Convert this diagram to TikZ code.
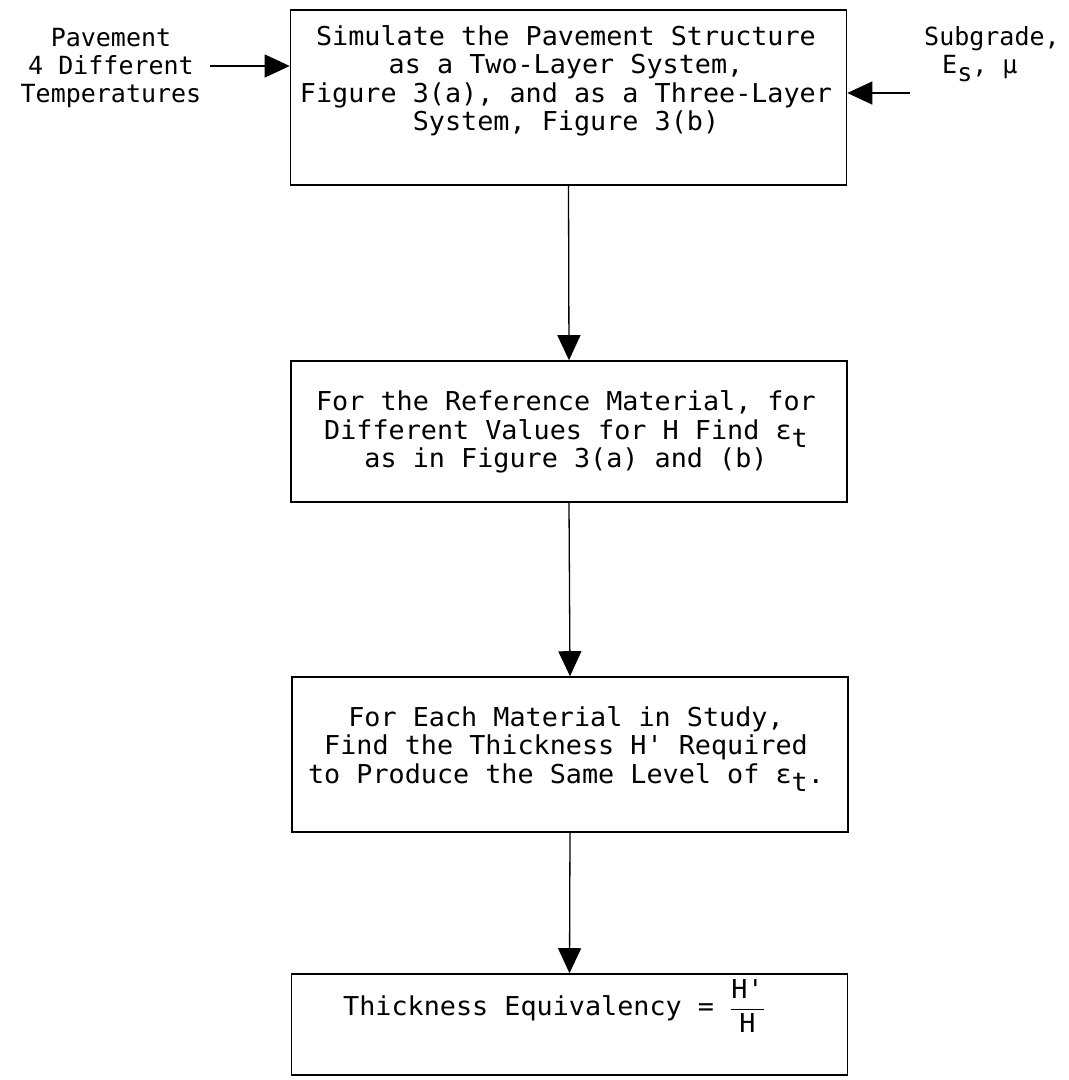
\documentclass[tikz,border=0pt]{standalone}
\usepackage{fontspec}
\setmonofont{DejaVu Sans Mono}[FakeStretch=1.03]
\newfontfamily\sidefont{DejaVu Sans Mono}
\usetikzlibrary{arrows.meta}
\newcommand\lowr[1]{\raisebox{-0.32em}{#1}}
\begin{document}
\begin{tikzpicture}[x=1pt,y=-1pt,
  every node/.style={inner sep=0pt},
  boxtext/.style={font=\ttfamily\fontsize{26}{28.5}\selectfont, align=center},
  sidetext/.style={font=\sidefont\fontsize{25}{28}\selectfont},
  stepbox/.style={draw, line width=1.6pt, minimum width=556pt},
  flow/.style={line width=1.3pt, -{Triangle[length=25pt,width=23pt]}}]
\useasboundingbox (0,0) rectangle (1069,1080);
% boxes
\node[stepbox, minimum height=175pt] (b1) at (568.5,97.5) {};
\node[stepbox, minimum height=141pt] (b2) at (569,431.5) {};
\node[stepbox, minimum height=155pt] (b3) at (570,754.5) {};
\node[stepbox, minimum height=101pt] (b4) at (569.5,1024.5) {};
% box texts
\node[boxtext] (t1) at (566,81)
  {Simulate the Pavement Structure\\as a Two-Layer System,\\Figure 3(a), and as a Three-Layer\\System, Figure 3(b)};
\node[boxtext] (t2) at (566,432)
  {For the Reference Material, for\\Different Values for H Find ε\lowr{t}\\as in Figure 3(a) and (b)};
\node[boxtext] (t3) at (566,749)
  {For Each Material in Study,\\Find the Thickness H' Required\\to Produce the Same Level of ε\lowr{t}.};
\node[boxtext] (t4) at (554,1006)
  {Thickness Equivalency = $\displaystyle\frac{\mbox{H'}}{\mbox{H}}$};
% side inputs
\node[sidetext, align=center] (pav) at (111,68) {Pavement\\4 Different\\Temperatures};
\node[sidetext, align=left, anchor=north west] (sub) at (924,26) {Subgrade,\\\hspace*{18pt}E\lowr{s}, µ};
\coordinate (pavtail) at (210,66);
\coordinate (subtail) at (910,93);
\draw[flow] (pavtail) -- (pavtail -| b1.west);
\draw[flow] (subtail) -- (subtail -| b1.east);
% main flow
\draw[flow] (b1.south) -- (b2.north);
\draw[flow] (b2.south) -- (b3.north);
\draw[flow] (b3.south) -- (b4.north);
\end{tikzpicture}
\end{document}
